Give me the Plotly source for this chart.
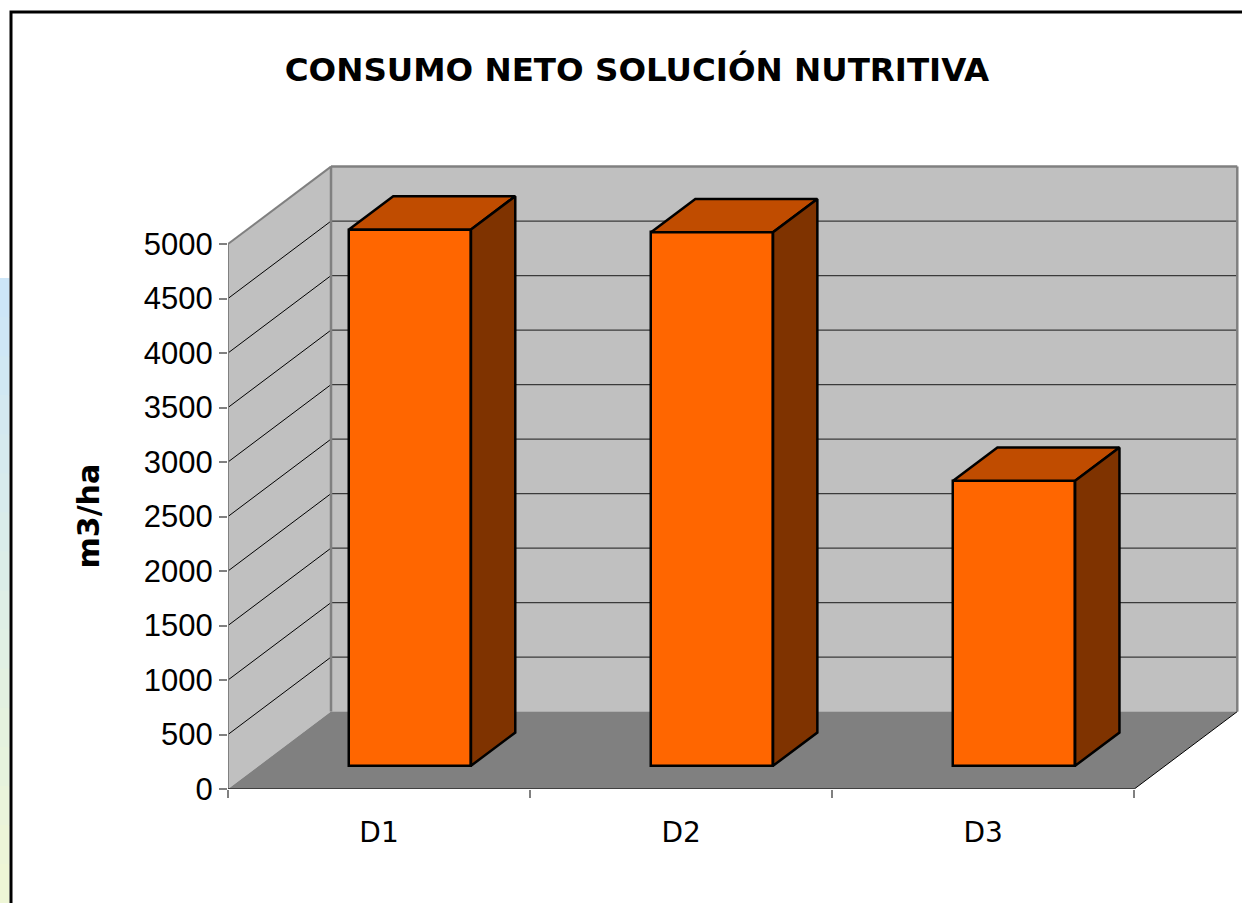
import plotly.graph_objects as go

# ---- data ----
categories = ["D1", "D2", "D3"]
values = [4920, 4895, 2615]
y_tick_values = [0, 500, 1000, 1500, 2000, 2500, 3000, 3500, 4000, 4500, 5000]
title_text = "CONSUMO NETO SOLUCIÓN NUTRITIVA"
y_title = "m3/ha"

# ---- pseudo-3D geometry (data units) ----
DX, DY = 0.341, 710        # depth vector of the box
F0, F1 = 0.30, 0.73        # bar front/back depth fractions
HALF = 0.202               # bar half width (category units)
YMAX = y_tick_values[-1]
NCAT = len(categories)

LABEL_FONT = "DejaVu Sans"
NUM_FONT = "Liberation Sans"

def poly(pts):
    return "M " + " L ".join(f"{x},{y}" for x, y in pts) + " Z"

def seg(p, q, color, width):
    return dict(type="line", xref="x", yref="y", x0=p[0], y0=p[1], x1=q[0], y1=q[1],
                line=dict(color=color, width=width), layer="below")

shapes = []
# left wall
shapes.append(dict(type="path", xref="x", yref="y", layer="below",
                   path=poly([(0, 0), (0, YMAX), (DX, YMAX + DY), (DX, DY)]),
                   fillcolor="#C0C0C0", line=dict(width=0)))
# back wall
shapes.append(dict(type="path", xref="x", yref="y", layer="below",
                   path=poly([(DX, DY), (DX, YMAX + DY), (NCAT + DX, YMAX + DY), (NCAT + DX, DY)]),
                   fillcolor="#C0C0C0", line=dict(width=0)))
# floor
shapes.append(dict(type="path", xref="x", yref="y", layer="below",
                   path=poly([(0, 0), (NCAT, 0), (NCAT + DX, DY), (DX, DY)]),
                   fillcolor="#808080", line=dict(width=0)))
# gridlines
for v in y_tick_values[1:-1]:
    shapes.append(seg((0, v), (DX, v + DY), "#000000", 1))
    shapes.append(seg((DX, v + DY), (NCAT + DX, v + DY), "#3a3a3a", 1.3))
# wall borders
shapes.append(seg((0, 0), (0, YMAX), "#808080", 2))
shapes.append(seg((0, YMAX), (DX, YMAX + DY), "#808080", 2))
shapes.append(seg((DX, DY), (DX, YMAX + DY), "#808080", 2.5))
shapes.append(seg((DX, YMAX + DY), (NCAT + DX, YMAX + DY), "#808080", 2.5))
shapes.append(seg((NCAT + DX, DY), (NCAT + DX, YMAX + DY), "#808080", 2.5))
# floor edges
shapes.append(seg((0, 0), (NCAT, 0), "#000000", 1.2))
shapes.append(seg((NCAT, 0), (NCAT + DX, DY), "#000000", 1))

# outer frame and left strip (decoration, pixel-based)
W, H = 1242, 903
PL, PW, PT, PH = 228, 1012, 160, 629
def px2paper_x(px):
    return (px - PL) / PW
def px2paper_y(py):
    return (PT + PH - py) / PH

shapes.append(dict(type="rect", xref="paper", yref="paper",
                   x0=px2paper_x(11), x1=px2paper_x(1260), y0=px2paper_y(12), y1=px2paper_y(960),
                   line=dict(color="#000000", width=3), fillcolor="rgba(0,0,0,0)", layer="above"))
strip_top, strip_bot = 278, 903
nb = 16
c_top, c_bot = (205, 230, 248), (238, 246, 214)
for k in range(nb):
    t = k / (nb - 1)
    col = tuple(round(c_top[j] + (c_bot[j] - c_top[j]) * t) for j in range(3))
    ya = strip_top + (strip_bot - strip_top) * k / nb
    yb = strip_top + (strip_bot - strip_top) * (k + 1) / nb
    shapes.append(dict(type="rect", xref="paper", yref="paper",
                       x0=px2paper_x(0), x1=px2paper_x(9.5), y0=px2paper_y(ya), y1=px2paper_y(yb + 1),
                       line=dict(width=0), fillcolor=f"rgb{col}", layer="below"))

fig = go.Figure()

# front faces as real bars
centers = [i + 0.5 for i in range(NCAT)]
fig.add_trace(go.Bar(
    x=[c + F0 * DX for c in centers], y=values, base=F0 * DY, width=2 * HALF,
    marker=dict(color="#FF6600", line=dict(color="#000000", width=2.5)),
    hoverinfo="skip", showlegend=False))

# top and side faces
for c, v in zip(centers, values):
    xl, xr = c - HALF, c + HALF
    top = [(xl + F0 * DX, v + F0 * DY), (xr + F0 * DX, v + F0 * DY),
           (xr + F1 * DX, v + F1 * DY), (xl + F1 * DX, v + F1 * DY), (xl + F0 * DX, v + F0 * DY)]
    side = [(xr + F0 * DX, F0 * DY), (xr + F1 * DX, F1 * DY), (xr + F1 * DX, v + F1 * DY),
            (xr + F0 * DX, v + F0 * DY), (xr + F0 * DX, F0 * DY)]
    for pts, colr in ((top, "#C04C00"), (side, "#7F3300")):
        fig.add_trace(go.Scatter(
            x=[p[0] for p in pts], y=[p[1] for p in pts], mode="lines", fill="toself",
            fillcolor=colr, line=dict(color="#000000", width=2.5),
            hoverinfo="skip", showlegend=False))

fig.update_layout(
    width=W, height=H,
    margin=dict(l=PL, r=W - PL - PW, t=PT, b=H - PT - PH),
    paper_bgcolor="white", plot_bgcolor="white",
    shapes=shapes,
    title=dict(text=f"<b>{title_text}</b>", xref="container", yref="container",
               x=637 / W, xanchor="center", y=1 - 70 / H, yanchor="middle",
               font=dict(family=LABEL_FONT, size=32.5, color="#000000")),
    xaxis=dict(range=[0, NCAT + 0.35], tickmode="array", tickvals=centers, ticktext=categories,
               ticks="", ticklabelstandoff=24, showgrid=False, zeroline=False, showline=False,
               tickfont=dict(family=LABEL_FONT, size=28, color="#000000"),
               minor=dict(tickmode="array", tickvals=list(range(NCAT + 1)), ticks="outside",
                          ticklen=8, tickwidth=2, tickcolor="#808080", showgrid=False),
               fixedrange=True),
    yaxis=dict(range=[0, PH / 0.109], tickmode="array", tickvals=y_tick_values,
               ticks="outside", ticklen=8, tickwidth=1.5, tickcolor="#808080",
               showgrid=False, zeroline=False, showline=False,
               tickfont=dict(family=NUM_FONT, size=31, color="#000000"),
               fixedrange=True),
    annotations=[dict(text=f"<b>{y_title}</b>", xref="paper", yref="y", x=0, y=YMAX / 2,
                      xanchor="center", yanchor="middle", xshift=88 - PL, textangle=-90,
                      showarrow=False, font=dict(family=LABEL_FONT, size=30, color="#000000"))],
    bargap=0,
)

fig.write_html("out.html", config={"displayModeBar": False},
               post_script="document.body.style.margin='0';")
